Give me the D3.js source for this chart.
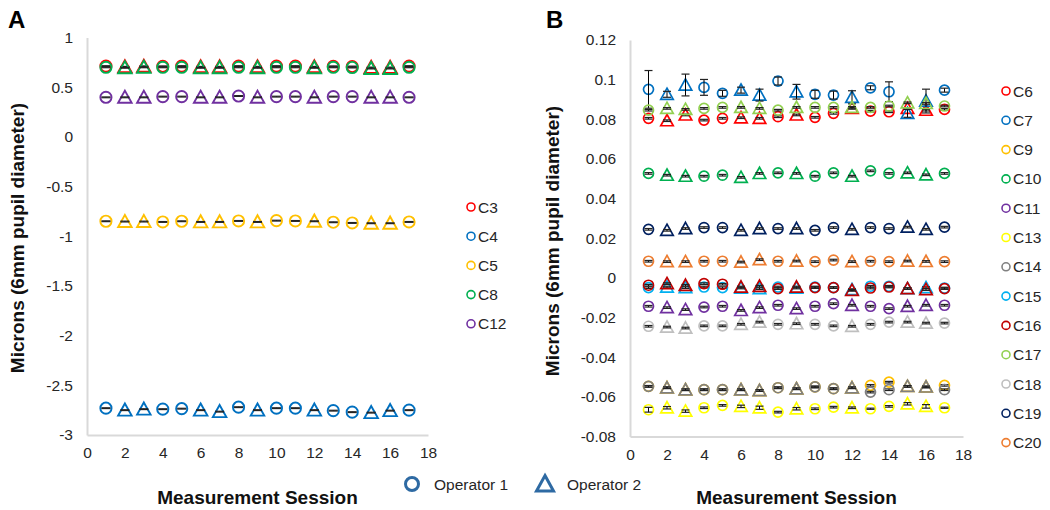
<!DOCTYPE html>
<html>
<head>
<meta charset="utf-8">
<script src="https://cdn.jsdelivr.net/npm/d3@7"></script>
<style>
  html, body { margin: 0; padding: 0; background: #ffffff; }
  svg { display: block; font-family: "Liberation Sans", Arial, sans-serif; }
</style>
</head>
<body>
<svg id="chart" width="1050" height="510"></svg>
<script>
// ---------------- DATA ----------------
const sessions = [1,2,3,4,5,6,7,8,9,10,11,12,13,14,15,16,17];
// which operator measured each session (1 = circle, 2 = triangle)
const operatorBySession = [1,2,2,1,1,2,2,1,2,1,1,2,1,1,2,2,1];

// Panel A
const seriesA = ["C3","C4","C5","C8","C12"];
const C3  = [0.712,0.705,0.71,0.71,0.712,0.705,0.705,0.712,0.705,0.712,0.712,0.705,0.71,0.708,0.698,0.698,0.712];
const C4  = [-2.73,-2.75,-2.74,-2.74,-2.735,-2.75,-2.765,-2.72,-2.75,-2.73,-2.73,-2.75,-2.755,-2.77,-2.775,-2.755,-2.75];
const C5  = [-0.849,-0.852,-0.852,-0.856,-0.849,-0.856,-0.856,-0.846,-0.856,-0.843,-0.846,-0.849,-0.859,-0.866,-0.869,-0.869,-0.856];
const C8  = [0.70,0.695,0.70,0.70,0.70,0.695,0.695,0.70,0.695,0.70,0.70,0.695,0.70,0.698,0.688,0.688,0.70];
const C12 = [0.398,0.398,0.398,0.405,0.405,0.398,0.398,0.411,0.398,0.405,0.405,0.398,0.405,0.405,0.398,0.398,0.398];
const errA = 0.004;
const yTicksA = [1,0.5,0,-0.5,-1,-1.5,-2,-2.5,-3];
const yTickLabelsA = ["1","0.5","0","-0.5","-1","-1.5","-2","-2.5","-3"];

// Panel B
const seriesB = ["C6","C7","C9","C10","C11","C13","C14","C15","C16","C17","C18","C19","C20"];
const C6  = [0.0805,0.0793,0.0822,0.0796,0.0805,0.0808,0.0805,0.0813,0.0822,0.081,0.083,0.0855,0.0841,0.0838,0.0855,0.0846,0.085];
const C7  = [0.0951,0.0926,0.0973,0.0961,0.0931,0.0947,0.0922,0.0993,0.0939,0.0926,0.0922,0.0911,0.0959,0.0939,0.083,0.0892,0.0947];
const C9  = [-0.0547,-0.0554,-0.0564,-0.0564,-0.0564,-0.0564,-0.0568,-0.0554,-0.0559,-0.055,-0.0559,-0.0554,-0.0542,-0.0526,-0.0547,-0.055,-0.0542];
const C10 = [0.0527,0.0518,0.0513,0.0513,0.0518,0.0507,0.0527,0.053,0.0527,0.0513,0.053,0.0513,0.054,0.0527,0.053,0.052,0.0527];
const C11 = [-0.0143,-0.015,-0.016,-0.0147,-0.0143,-0.0164,-0.015,-0.0138,-0.0155,-0.0143,-0.013,-0.0138,-0.0143,-0.0155,-0.0143,-0.0138,-0.0138];
const C13 = [-0.0665,-0.0655,-0.0672,-0.0655,-0.0643,-0.0648,-0.0655,-0.0677,-0.066,-0.066,-0.0652,-0.0655,-0.066,-0.0648,-0.0635,-0.0648,-0.0655];
const C14 = [-0.0547,-0.0554,-0.0564,-0.0564,-0.0564,-0.0564,-0.0568,-0.0554,-0.0559,-0.055,-0.0559,-0.0554,-0.0576,-0.0564,-0.0547,-0.055,-0.0564];
const C15 = [-0.0049,-0.0046,-0.0049,-0.0046,-0.0049,-0.0051,-0.0054,-0.0046,-0.0051,-0.0046,-0.0049,-0.0059,-0.0042,-0.0042,-0.0054,-0.0049,-0.0051];
const C16 = [-0.0037,-0.0029,-0.0037,-0.0029,-0.0032,-0.0046,-0.0042,-0.0054,-0.0046,-0.0049,-0.0049,-0.0063,-0.0051,-0.0046,-0.0054,-0.0059,-0.0054];
const C17 = [0.0846,0.0855,0.085,0.0855,0.086,0.086,0.0855,0.0846,0.086,0.086,0.086,0.086,0.086,0.0867,0.0883,0.088,0.0867];
const C18 = [-0.0244,-0.0248,-0.0253,-0.0242,-0.0242,-0.0234,-0.0223,-0.0234,-0.0231,-0.0234,-0.0242,-0.0244,-0.0234,-0.0223,-0.0223,-0.0228,-0.0228];
const C19 = [0.0245,0.024,0.0249,0.0254,0.0254,0.024,0.0249,0.0249,0.0249,0.024,0.0254,0.0245,0.0254,0.0249,0.0256,0.0245,0.0256];
const C20 = [0.0084,0.0082,0.0082,0.0084,0.0084,0.008,0.0092,0.0084,0.0085,0.0082,0.009,0.0082,0.0084,0.0082,0.0085,0.0083,0.0082];
const errC7  = [0.0095,0.0015,0.0055,0.004,0.0015,0.0015,0.003,0.002,0.0037,0.002,0.002,0.0033,0.001,0.005,0.002,0.006,0.001];
const errC13 = [0.0012,0.0006,0.0006,0.0004,0.0004,0.0006,0.0008,0.0004,0.0006,0.0004,0.0004,0.0004,0.0003,0.0004,0.0006,0.0009,0.0003];
const errB = 0.0004;
const yTicksB = [0.12,0.1,0.08,0.06,0.04,0.02,0,-0.02,-0.04,-0.06,-0.08];
const yTickLabelsB = ["0.12","0.1","0.08","0.06","0.04","0.02","0","-0.02","-0.04","-0.06","-0.08"];

const xTicks = [0,2,4,6,8,10,12,14,16,18];
const operatorLabels = ["Operator 1","Operator 2"];

// ---------------- STYLE ----------------
const colors = {
  C3:"#ff0000", C4:"#0070c0", C5:"#ffc000", C8:"#00b050", C12:"#7030a0",
  C6:"#ff0000", C7:"#0070c0", C9:"#ffc000", C10:"#00b050", C11:"#7030a0",
  C13:"#ffff00", C14:"#808080", C15:"#00b0f0", C16:"#c00000", C17:"#92d050",
  C18:"#bfbfbf", C19:"#002060", C20:"#ed7d31"
};
const dataA = {C3, C4, C5, C8, C12};
const dataB = {C6, C7, C9, C10, C11, C13, C14, C15, C16, C17, C18, C19, C20};
const errsB = {C7: errC7, C13: errC13};

const svg = d3.select("#chart");
const axisColor = "#d9d9d9";
const textColor = "#262626";

function drawPanel(cfg) {
  const x = d3.scaleLinear().domain([0,18]).range(cfg.xRange);
  const y = d3.scaleLinear().domain(cfg.yDomain).range(cfg.yRange);
  const g = svg.append("g");

  // axes
  const ax = g.append("g").attr("transform", `translate(0,${cfg.yRange[0]})`)
    .call(d3.axisBottom(x).tickValues(xTicks).tickSize(0).tickPadding(12).tickFormat(d => String(d)));
  ax.select(".domain").attr("stroke", axisColor).attr("stroke-width", 2);
  ax.selectAll("text").attr("font-size", 15.5).attr("fill", textColor)
    .attr("font-family", '"Liberation Sans", Arial, sans-serif');

  const ay = g.append("g").attr("transform", `translate(${cfg.xRange[0]},0)`)
    .call(d3.axisLeft(y).tickValues(cfg.yTicks).tickSize(0).tickPadding(14)
      .tickFormat((d,i) => cfg.yLabels[i]));
  ay.select(".domain").attr("stroke", axisColor).attr("stroke-width", 2);
  ay.selectAll("text").attr("font-size", 15.5).attr("fill", textColor)
    .attr("font-family", '"Liberation Sans", Arial, sans-serif');

  // titles
  g.append("text").attr("x", (cfg.xRange[0]+cfg.xRange[1])/2).attr("y", 504)
    .attr("text-anchor","middle").attr("font-size", 19).attr("font-weight","bold")
    .attr("fill", "#111").text("Measurement Session");
  g.append("text").attr("transform", `translate(${cfg.yTitleX},${cfg.yTitleY}) rotate(-90)`)
    .attr("text-anchor","middle").attr("font-size", 19).attr("font-weight","bold")
    .attr("fill", "#111").text("Microns (6mm pupil diameter)");
  g.append("text").attr("x", cfg.letterX).attr("y", 28).attr("font-size", 24)
    .attr("font-weight","bold").attr("fill","#000").text(cfg.letter);

  // series
  const r = cfg.r;
  const tw = cfg.tri;
  cfg.series.forEach(name => {
    const vals = cfg.data[name];
    const sg = g.append("g");
    const pts = sessions.map((s,i) => ({s, v: vals[i], op: operatorBySession[i],
      e: cfg.errs && cfg.errs[name] ? cfg.errs[name][i] : cfg.errDefault}));
    pts.forEach(p => {
      const cx = x(p.s), cy = y(p.v);
      if (p.op === 1) {
        sg.append("circle").attr("cx", cx).attr("cy", cy).attr("r", r)
          .attr("fill","none").attr("stroke", colors[name]).attr("stroke-width", cfg.sw);
      } else {
        const h = tw * 0.9;
        sg.append("path")
          .attr("d", `M${cx},${cy - h*0.55} L${cx + tw/2},${cy + h*0.45} L${cx - tw/2},${cy + h*0.45} Z`)
          .attr("fill","none").attr("stroke", colors[name]).attr("stroke-width", cfg.sw)
          .attr("stroke-linejoin","miter");
      }
    });
    pts.forEach(p => {
      const cx = x(p.s);
      const y1 = y(p.v + p.e), y2 = y(p.v - p.e);
      sg.append("line").attr("x1", cx).attr("x2", cx).attr("y1", y1).attr("y2", y2)
        .attr("stroke","#000").attr("stroke-width", 1);
      [y1, y2].forEach(yy => sg.append("line").attr("x1", cx - cfg.cap).attr("x2", cx + cfg.cap)
        .attr("y1", yy).attr("y2", yy).attr("stroke","#222").attr("stroke-width", 1.2));
    });
  });

  // legend
  cfg.series.forEach((name, i) => {
    const ly = cfg.legY0 + i * cfg.legStep;
    g.append("circle").attr("cx", cfg.legX).attr("cy", ly).attr("r", 4)
      .attr("fill","none").attr("stroke", colors[name]).attr("stroke-width", 1.6);
    g.append("text").attr("x", cfg.legX + 7).attr("y", ly).attr("dy","0.36em")
      .attr("font-size", 15.5).attr("fill", textColor).text(name);
  });
}

drawPanel({
  letter:"A", letterX: 8,
  xRange:[87,428], yDomain:[-3,1], yRange:[435,37.5],
  yTicks: yTicksA, yLabels: yTickLabelsA,
  yTitleX: 24, yTitleY: 238,
  series: seriesA, data: dataA, errDefault: errA,
  r: 5.6, tri: 13.5, sw: 1.9, cap: 4.5,
  legX: 471, legY0: 207, legStep: 29.2
});

drawPanel({
  letter:"B", letterX: 546,
  xRange:[630,963], yDomain:[-0.08,0.12], yRange:[436.5,40],
  yTicks: yTicksB, yLabels: yTickLabelsB,
  yTitleX: 559, yTitleY: 241,
  series: seriesB, data: dataB, errDefault: errB, errs: errsB,
  r: 5, tri: 12.5, sw: 1.7, cap: 4,
  legX: 1006, legY0: 91, legStep: 29.3
});

// Operator legend
const opG = svg.append("g");
opG.append("circle").attr("cx", 412).attr("cy", 484).attr("r", 6.5)
  .attr("fill","none").attr("stroke","#2e6aa3").attr("stroke-width", 3);
opG.append("text").attr("x", 434).attr("y", 484).attr("dy","0.36em")
  .attr("font-size", 15.5).attr("fill", textColor).text(operatorLabels[0]);
opG.append("path").attr("d", "M545,475.5 L553.5,491 L536.5,491 Z")
  .attr("fill","none").attr("stroke","#2e6aa3").attr("stroke-width", 3);
opG.append("text").attr("x", 567).attr("y", 484).attr("dy","0.36em")
  .attr("font-size", 15.5).attr("fill", textColor).text(operatorLabels[1]);
</script>
</body>
</html>
